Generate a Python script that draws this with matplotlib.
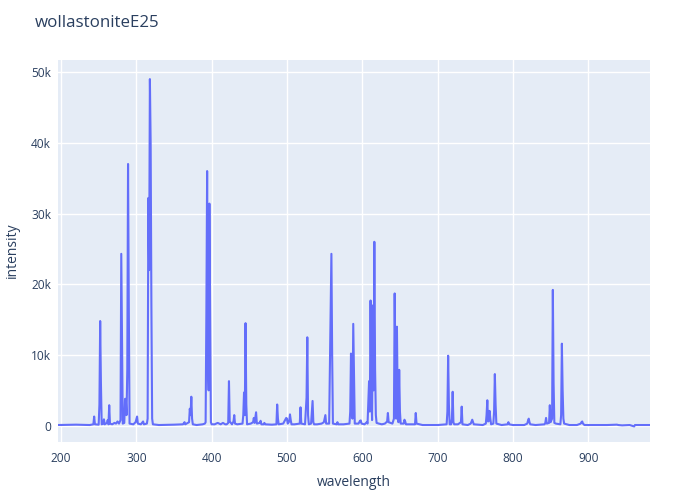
import matplotlib
matplotlib.use("Agg")
import matplotlib.pyplot as plt
from matplotlib.ticker import FuncFormatter

# spectrum (wavelength, intensity)
wavelength = [
    196, 220, 238, 243, 244, 245, 250, 251, 252, 253, 254, 256, 257, 258,
    261, 262, 263, 264, 265, 268, 271, 273, 275, 277, 279, 280, 281, 282,
    284, 285, 286, 287, 288, 289, 290, 291, 296, 299, 301, 302, 306, 309,
    310, 314, 315, 316, 317, 318, 319, 320, 321, 322, 330, 350, 362, 364,
    365, 370, 371, 372, 373, 374, 375, 380, 388, 391, 392, 393, 394, 395,
    396, 397, 398, 399, 400, 404, 408, 412, 415, 418, 420, 422, 423, 424,
    427, 429, 430, 431, 434, 441, 442, 443, 444, 445, 446, 447, 452, 455,
    456, 457, 459, 460, 464, 465, 466, 469, 470, 471, 480, 486, 487, 488,
    489, 495, 499, 500, 501, 503, 504, 505, 506, 510, 517, 518, 519, 524,
    526, 527, 528, 529, 532, 534, 535, 536, 540, 546, 549, 551, 552, 556,
    558, 559, 560, 561, 566, 567, 568, 575, 583, 584, 585, 586, 587, 588,
    589, 590, 595, 597, 598, 599, 603, 606, 607, 609, 610, 611, 612, 613,
    614, 615, 616, 617, 618, 619, 622, 626, 630, 633, 634, 635, 640, 642,
    643, 644, 645, 646, 647, 648, 649, 650, 651, 655, 656, 657, 658, 665,
    670, 671, 672, 680, 700, 712, 713, 714, 715, 716, 718, 719, 720, 721,
    722, 727, 731, 732, 733, 740, 744, 746, 748, 760, 764, 765, 766, 767,
    768, 769, 770, 771, 774, 775, 776, 777, 778, 785, 793, 794, 795, 800,
    815, 819, 820, 821, 822, 823, 830, 842, 843, 844, 845, 848, 849, 850,
    852, 853, 854, 855, 857, 863, 864, 865, 866, 867, 868, 875, 885, 890,
    891, 892, 893, 895, 910, 925, 938, 940, 945, 955, 961, 962, 982,
]
intensity = [
    100, 150, 100, 200, 1300, 200, 150, 3000, 14800, 6000, 200, 300, 900, 200,
    400, 800, 200, 2900, 300, 200, 400, 300, 600, 300, 800, 24300, 13000, 300,
    400, 3800, 3800, 1500, 8000, 37000, 17000, 300, 200, 500, 1300, 300, 200, 600,
    200, 300, 1000, 32200, 22000, 49000, 40000, 17000, 1000, 200, 100, 150, 200, 500,
    200, 500, 2400, 1500, 4100, 1000, 200, 100, 200, 300, 500, 16000, 36000, 10000,
    5000, 31400, 16000, 500, 200, 200, 400, 200, 400, 200, 200, 400, 6300, 600,
    200, 600, 1500, 300, 200, 300, 1500, 4700, 1500, 14500, 3000, 200, 300, 500,
    1100, 400, 1900, 300, 400, 700, 200, 200, 400, 200, 150, 200, 3000, 1000,
    200, 300, 1100, 1000, 300, 600, 1600, 800, 200, 200, 300, 2600, 300, 200,
    4000, 12500, 1500, 200, 300, 3500, 500, 200, 200, 300, 500, 1500, 300, 300,
    16000, 24300, 10000, 300, 200, 500, 200, 200, 300, 2000, 10200, 3000, 1000, 14400,
    7000, 300, 300, 700, 750, 300, 200, 500, 300, 6300, 2000, 17700, 5000, 800,
    17000, 5000, 26000, 8000, 1500, 400, 300, 200, 300, 600, 1800, 500, 300, 1000,
    18700, 8000, 1000, 14000, 3000, 500, 7900, 2000, 300, 300, 850, 600, 200, 200,
    200, 1800, 300, 100, 100, 200, 2000, 9900, 3000, 200, 200, 1000, 4800, 500,
    200, 200, 500, 2700, 200, 100, 300, 850, 200, 100, 300, 1500, 3600, 600,
    700, 2100, 1000, 200, 300, 2000, 7300, 3000, 300, 100, 200, 500, 200, 100,
    100, 300, 700, 1000, 500, 200, 100, 200, 400, 1100, 300, 400, 2900, 500,
    1000, 19200, 6000, 400, 300, 200, 1500, 11600, 5000, 1000, 300, 100, 100, 300,
    500, 600, 300, 100, 100, 100, 150, 100, 50, 100, -100, 100, 100,
]

x_ticks = [200, 300, 400, 500, 600, 700, 800, 900]
y_ticks = [0, 10000, 20000, 30000, 40000, 50000]

text_color = "#2a3f5f"
plt.rcParams["font.family"] = ["Open Sans", "DejaVu Sans"]

fig = plt.figure(figsize=(7, 5), dpi=100)
ax = fig.add_axes([58 / 700, 58 / 500, 592 / 700, 382 / 500])
ax.set_facecolor("#E5ECF6")

ax.plot(wavelength, intensity, color="#636EFA", linewidth=1.5, solid_joinstyle="round")

ax.set_xlim(196, 982)
ax.set_ylim(-2300, 51700)
ax.set_xticks(x_ticks)
ax.set_yticks(y_ticks)
ax.yaxis.set_major_formatter(FuncFormatter(lambda v, p: "0" if v == 0 else f"{int(v / 1000)}k"))
ax.grid(True, color="white", linewidth=1)
ax.set_axisbelow(True)
for s in ax.spines.values():
    s.set_visible(False)
ax.tick_params(length=0, labelsize=8.6, labelcolor=text_color)
ax.tick_params(axis="x", pad=7)
ax.tick_params(axis="y", pad=5)

fig.text(35 / 700, 1 - 23 / 500, "wollastoniteE25", fontsize=12.2, color=text_color, va="center")
fig.text((58 + 592 / 2) / 700, 1 - 483 / 500, "wavelength", fontsize=10, color=text_color,
         ha="center", va="center")
fig.text(12 / 700, 1 - 250 / 500, "intensity", fontsize=10, color=text_color,
         ha="center", va="center", rotation=90)

fig.savefig("out.png", dpi=100)
